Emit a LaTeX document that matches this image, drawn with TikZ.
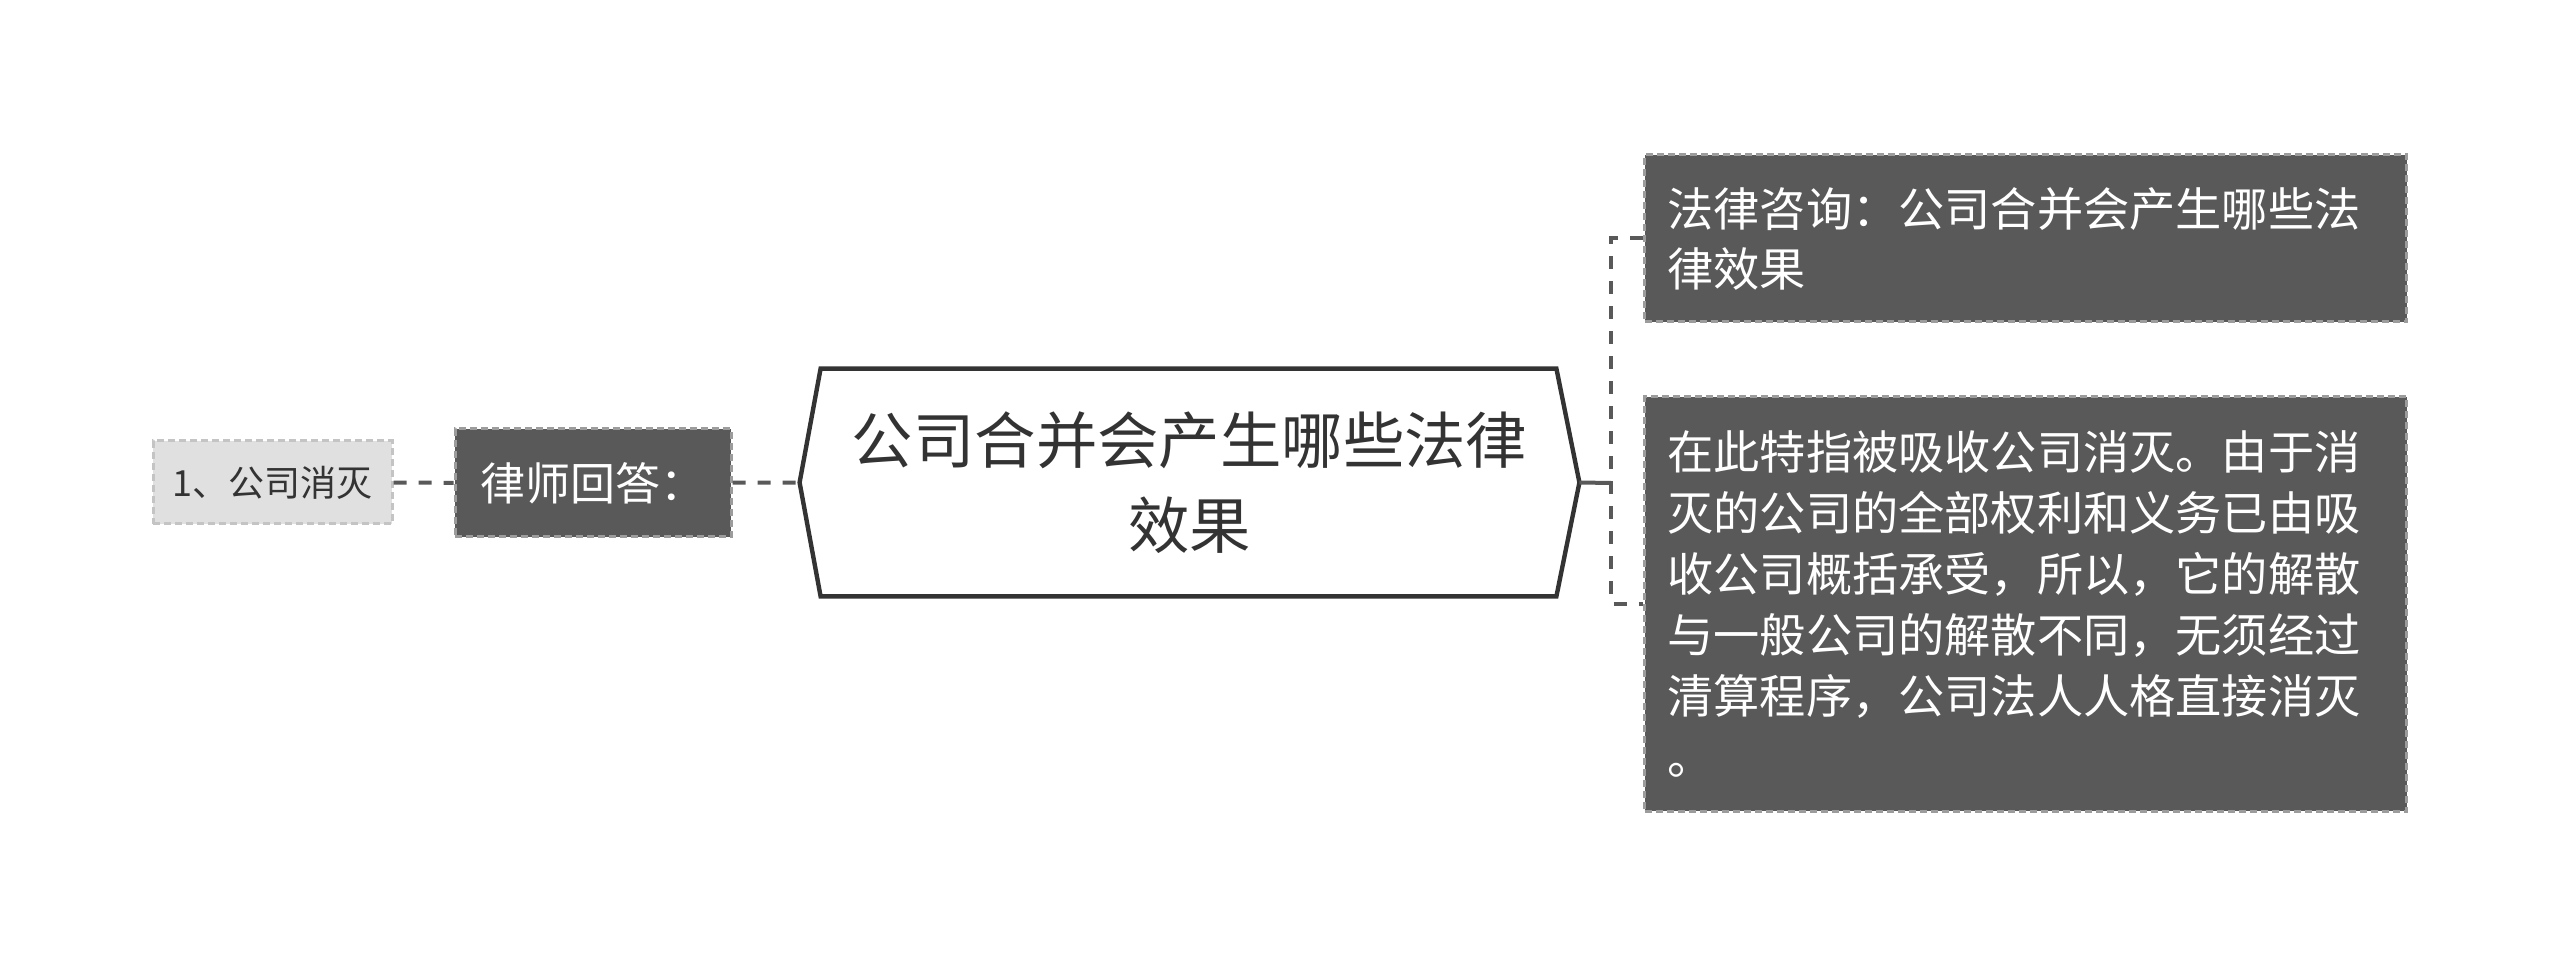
\documentclass[tikz,border=0pt]{standalone}
\usepackage{fontspec}
\setmainfont{Noto Sans CJK SC}
\usetikzlibrary{calc}
\definecolor{dk}{HTML}{595959}
\definecolor{bd}{HTML}{9C9C9C}
\definecolor{lt}{HTML}{E0E0E0}
\definecolor{ltbd}{HTML}{C4C4C4}
\definecolor{txt}{HTML}{333333}
\definecolor{ln}{HTML}{595959}
\tikzset{
  darkbox/.style={fill=dk, draw=bd, line width=1.5pt, dash pattern=on 3.5pt off 2pt, text=white, inner sep=0pt},
  lightbox/.style={fill=lt, draw=ltbd, line width=1.5pt, dash pattern=on 3.5pt off 2pt, text=txt, inner sep=0pt},
  link/.style={draw=ln, line width=2pt, dash pattern=on 6.5pt off 6pt},
  solidlink/.style={draw=ln, line width=2pt},
  hexline/.style={draw=txt, line width=2.2pt, line join=miter}
}
\begin{document}
\begin{tikzpicture}[x=0.5pt,y=-0.5pt]
\useasboundingbox (0,0) rectangle (2560,967);
\node[lightbox, minimum width=119.5pt, minimum height=41.5pt, font=\fontsize{18}{22}\selectfont] (n1) at (272.5,482.5) {1、公司消灭};
\node[darkbox, minimum width=138pt, minimum height=54pt, font=\fontsize{22.5}{27}\selectfont] (law) at (593,483) {律师回答：};
\node[minimum width=389.5pt, minimum height=113.5pt, inner sep=0pt, align=center, text=txt, font=\fontsize{30.7}{42.5}\selectfont] (c) at (1189.5,482.5) {公司合并会产生哪些法律\\效果};
\draw[hexline] (c.west) -- ($(c.north west)+(21,0)$) -- ($(c.north east)+(-23,0)$) -- (c.east) -- ($(c.south east)+(-23,0)$) -- ($(c.south west)+(21,0)$) -- cycle;
\node[darkbox, text width=358pt, inner xsep=11.5pt, minimum height=83.5pt, align=left, font=\fontsize{23.1}{30}\selectfont] (r1) at (2025.5,238.5) {法律咨询：公司合并会产生哪些法\\律效果};
\node[darkbox, text width=358pt, inner xsep=11.5pt, minimum height=207pt, align=left, font=\fontsize{23.1}{30.5}\selectfont] (r2) at (2025.5,604) {在此特指被吸收公司消灭。由于消\\灭的公司的全部权利和义务已由吸\\收公司概括承受，所以，它的解散\\与一般公司的解散不同，无须经过\\清算程序，公司法人人格直接消灭\\。};
\coordinate (j) at (1611,483);
\draw[link] (n1) -- (law);
\draw[link] (law) -- (c.west);
\draw[solidlink] (c.east) -- (j);
\draw[link] (r1.west) -- (r1.west -| j) -- (r2.west -| j) -- (r2.west);
\end{tikzpicture}
\end{document}
